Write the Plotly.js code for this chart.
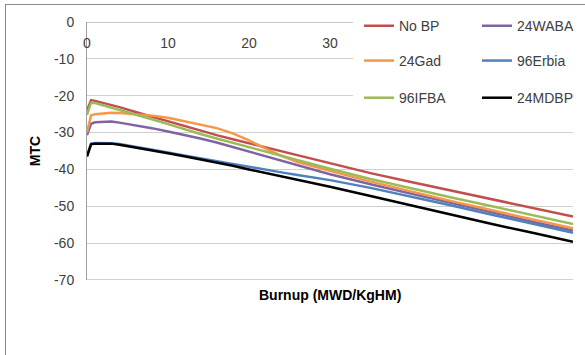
<!DOCTYPE html>
<html>
<head>
<meta charset="utf-8">
<script src="https://cdn.plot.ly/plotly-3.0.1.min.js"></script>
<style>
  html, body { margin: 0; padding: 0; overflow: hidden; background: #fff; }
  #chart { width: 585px; height: 355px; }
  #frame { position: absolute; left: 5px; top: 4px; width: 700px; height: 500px;
           border-left: 1px solid #8c8c8c; border-top: 1px solid #8c8c8c; pointer-events: none; }
</style>
</head>
<body>
<div id="chart"></div>
<div id="frame"></div>
<script>
const burnup = [0, 0.5, 1, 2, 3, 4, 6, 8, 10, 12, 14, 16, 18, 20, 22, 24, 26, 28, 30, 35, 40, 45, 50, 55, 60];
const noBP   = [-24.0, -21.2, -21.4, -21.9, -22.5, -23.1, -24.4, -25.7, -26.9, -28.2, -29.5, -30.7, -31.8, -32.9, -34.0, -35.1, -36.2, -37.3, -38.4, -41.0, -43.4, -45.8, -48.2, -50.5, -52.8];
const waba24 = [-30.7, -27.6, -27.2, -27.0, -27.0, -27.3, -28.0, -28.8, -29.7, -30.6, -31.6, -32.7, -33.9, -35.1, -36.4, -37.7, -38.9, -40.1, -41.3, -44.0, -46.6, -49.2, -51.7, -54.2, -56.6];
const gad24  = [-30.0, -25.3, -25.0, -24.7, -24.6, -24.7, -25.0, -25.4, -26.0, -26.9, -27.8, -28.8, -30.2, -32.1, -34.3, -36.3, -38.0, -39.3, -40.4, -43.3, -46.0, -48.6, -51.1, -53.6, -56.0];
const erbia96= [-36.3, -33.0, -32.8, -32.8, -32.9, -33.1, -33.8, -34.6, -35.4, -36.2, -37.0, -37.8, -38.6, -39.4, -40.1, -40.8, -41.5, -42.2, -42.9, -45.0, -47.3, -49.8, -52.3, -54.7, -57.2];
const ifba96 = [-25.2, -21.9, -22.0, -22.6, -23.2, -23.8, -25.1, -26.4, -27.7, -29.1, -30.4, -31.6, -32.8, -34.0, -35.2, -36.4, -37.5, -38.8, -39.8, -42.6, -45.2, -47.6, -50.0, -52.4, -54.8];
const mdbp24 = [-36.5, -33.2, -33.0, -32.9, -33.0, -33.3, -34.0, -34.8, -35.6, -36.4, -37.2, -38.1, -39.0, -40.0, -40.9, -41.9, -42.8, -43.7, -44.7, -47.2, -49.8, -52.3, -54.8, -57.2, -59.6];

const seriesNames = ['No BP', '24WABA', '24Gad', '96Erbia', '96IFBA', '24MDBP'];
const seriesData = [noBP, waba24, gad24, erbia96, ifba96, mdbp24];
const colors = ['#C0504D', '#8064A2', '#F79646', '#4F81BD', '#9BBB59', '#000000'];
const legendIds = ['legend', 'legend', 'legend2', 'legend2', 'legend3', 'legend3'];
const yTicks = [0, -10, -20, -30, -40, -50, -60, -70];
const xTicks = [0, 10, 20, 30];

const FONT = 'Liberation Sans, Arial, sans-serif';

const traces = seriesNames.map((n, i) => ({
  x: burnup, y: seriesData[i], name: n, type: 'scatter', mode: 'lines',
  line: {color: colors[i], width: 2.5},
  legend: legendIds[i]
}));

const legBase = {
  orientation: 'h', xanchor: 'left', yanchor: 'middle', x: 0.5473,
  bgcolor: '#ffffff', bordercolor: '#ffffff', borderwidth: 6,
  font: {family: FONT, size: 14, color: '#404040'},
  entrywidth: 73, entrywidthmode: 'pixels', traceorder: 'normal'
};

const layout = {
  width: 585, height: 355,
  margin: {l: 87, r: 12, t: 22, b: 75, autoexpand: false},
  paper_bgcolor: '#ffffff', plot_bgcolor: '#ffffff',
  font: {family: FONT, size: 14, color: '#404040'},
  showlegend: true,
  xaxis: {
    range: [0, 60], anchor: 'free', position: 1, side: 'bottom',
    tickvals: xTicks, ticktext: xTicks.map(String),
    showgrid: false, zeroline: false, showline: true, linecolor: '#c8c8c8', linewidth: 1,
    ticks: '', ticklabelstandoff: 8,
    tickfont: {family: FONT, size: 14, color: '#404040'}, fixedrange: true
  },
  yaxis: {
    range: [-70, 0], tickvals: yTicks, ticktext: yTicks.map(String),
    showgrid: true, gridcolor: '#d0d0d0', gridwidth: 1, zeroline: false,
    showline: true, linecolor: '#a0a0a0', linewidth: 1, ticks: '', ticklabelstandoff: 9,
    tickfont: {family: FONT, size: 14, color: '#404040'},
    title: {text: '<b>MTC</b>', font: {family: FONT, size: 14, color: '#000'}, standoff: 10},
    automargin: false, fixedrange: true
  },
  legend: Object.assign({}, legBase, {y: 0.984}),
  legend2: Object.assign({}, legBase, {y: 0.849}),
  legend3: Object.assign({}, legBase, {y: 0.705}),
  shapes: [{type: 'line', xref: 'paper', x0: 0, x1: 1, yref: 'y', y0: -70, y1: -70,
            line: {color: '#a0a0a0', width: 1}}],
  annotations: [{
    text: '<b>Burnup (MWD/KgHM)</b>', xref: 'paper', yref: 'paper', x: 0.5, y: -0.058,
    xanchor: 'center', yanchor: 'middle', showarrow: false,
    font: {family: FONT, size: 14, color: '#000'}
  }]
};

Plotly.newPlot('chart', traces, layout, {displayModeBar: false, staticPlot: true});
</script>
</body>
</html>
